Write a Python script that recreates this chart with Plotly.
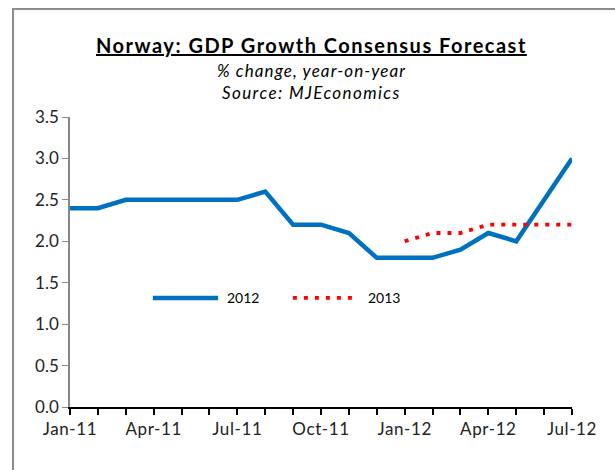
import plotly.graph_objects as go

# Monthly consensus forecasts, Jan-11 .. Jul-12
months = ["Jan-11", "Feb-11", "Mar-11", "Apr-11", "May-11", "Jun-11", "Jul-11",
          "Aug-11", "Sep-11", "Oct-11", "Nov-11", "Dec-11", "Jan-12", "Feb-12",
          "Mar-12", "Apr-12", "May-12", "Jun-12", "Jul-12"]
gdp_2012 = [2.4, 2.4, 2.5, 2.5, 2.5, 2.5, 2.5, 2.6, 2.2, 2.2, 2.1, 1.8,
            1.8, 1.8, 1.9, 2.1, 2.0, 2.5, 3.0]
months_2013 = ["Jan-12", "Feb-12", "Mar-12", "Apr-12", "May-12", "Jun-12", "Jul-12"]
gdp_2013 = [2.0, 2.1, 2.1, 2.2, 2.2, 2.2, 2.2]
tick_labels = ["Jan-11", "Apr-11", "Jul-11", "Oct-11", "Jan-12", "Apr-12", "Jul-12"]

idx = {m: i for i, m in enumerate(months)}
x_2012 = [idx[m] for m in months]
x_2013 = [idx[m] for m in months_2013]

FONT = "Lato"
BLUE = "#0070C0"
RED = "#FF0000"


def spaced(text, px):
    return f'<span style="letter-spacing:{px}px">{text}</span>'


fig = go.Figure()
fig.add_trace(go.Scatter(x=x_2012, y=gdp_2012, mode="lines", name="2012",
                         line=dict(color=BLUE, width=4.5)))
fig.add_trace(go.Scatter(x=x_2013, y=gdp_2013, mode="lines", name="2013",
                         line=dict(color=RED, width=3.8, dash="4px,7px")))

fig.update_layout(
    width=615, height=470,
    margin=dict(l=70, r=43, t=117, b=63),
    paper_bgcolor="white", plot_bgcolor="white",
    showlegend=False,
    font=dict(family=FONT, color="#222222"),
)

fig.update_xaxes(
    range=[0, len(months) - 1],
    tickmode="array",
    tickvals=list(range(len(months))),
    ticktext=[spaced(m, 0.6) if m in tick_labels else "" for m in months],
    ticks="outside", ticklen=6, tickcolor="black", tickwidth=1.5,
    showline=True, linecolor="black", linewidth=2,
    showgrid=False, zeroline=False,
    tickfont=dict(size=17, family=FONT, color="#222222"),
)
fig.update_yaxes(
    range=[0, 3.5], dtick=0.5, tickformat=".1f",
    ticks="outside", ticklen=6, tickcolor="#888888",
    showline=True, linecolor="#888888", linewidth=1.5,
    showgrid=False, zeroline=False,
    tickfont=dict(size=17, family=FONT, color="#222222"),
)

# Titles
fig.add_annotation(xref="paper", yref="paper", x=0.482, y=1.248,
                   text="<b><u>" + spaced("Norway: GDP Growth Consensus Forecast", 1.5) + "</u></b>",
                   showarrow=False, font=dict(size=20, family=FONT, color="black"),
                   yanchor="middle")
fig.add_annotation(xref="paper", yref="paper", x=0.482, y=1.162,
                   text="<i>" + spaced("% change, year-on-year", 1.1) + "</i>",
                   showarrow=False, font=dict(size=17, family=FONT, color="black"),
                   yanchor="middle")
fig.add_annotation(xref="paper", yref="paper", x=0.482, y=1.083,
                   text="<i>" + spaced("Source: MJEconomics", 1.4) + "</i>",
                   showarrow=False, font=dict(size=17, family=FONT, color="black"),
                   yanchor="middle")

# Legend drawn inside the plot area
fig.add_shape(type="line", xref="paper", yref="paper", x0=0.165, x1=0.295,
              y0=0.376, y1=0.376, line=dict(color=BLUE, width=4.5))
fig.add_annotation(xref="paper", yref="paper", x=0.309, y=0.376, text="2012",
                   showarrow=False, xanchor="left", yanchor="middle",
                   font=dict(size=14, family=FONT, color="black"))
fig.add_shape(type="line", xref="paper", yref="paper", x0=0.444, x1=0.572,
              y0=0.376, y1=0.376, line=dict(color=RED, width=3.8, dash="4px,7px"))
fig.add_annotation(xref="paper", yref="paper", x=0.590, y=0.376, text="2013",
                   showarrow=False, xanchor="left", yanchor="middle",
                   font=dict(size=14, family=FONT, color="black"))

# Chart frame
fig.add_shape(type="rect", xref="paper", yref="paper",
              x0=-0.1135, x1=1.3, y0=-0.4, y1=1.372,
              line=dict(color="#8c8c8c", width=2), layer="below")

fig.write_html("out.html")
